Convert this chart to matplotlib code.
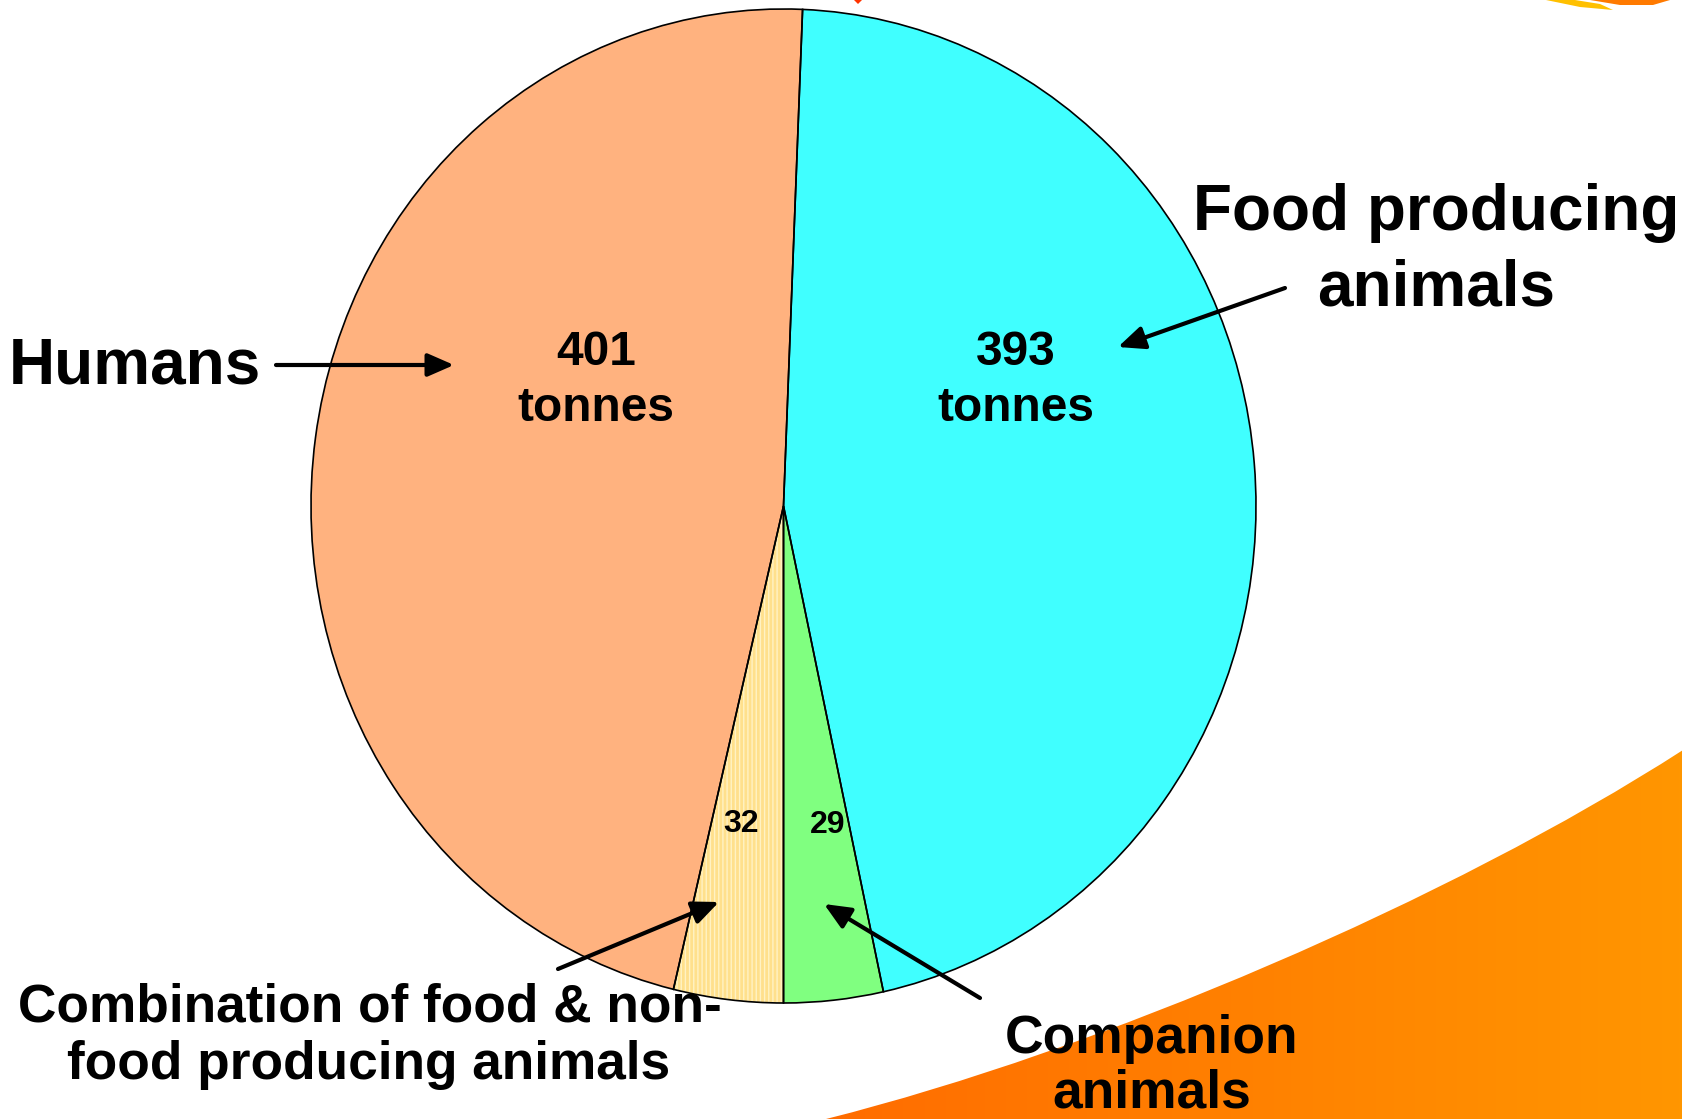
import matplotlib
matplotlib.use("Agg")
import matplotlib.pyplot as plt
import numpy as np
from matplotlib.patches import Polygon, PathPatch
from matplotlib.path import Path

# antibiotic use by sector (tonnes), in clockwise order starting at the bottom
SECTORES = ["Combination of food & non-food producing animals", "Humans",
            "Food producing animals", "Companion animals"]
TONELADAS = [32, 401, 393, 29]
COLORES = ["#FFE08C", "#FFB27F", "#40FFFF", "#80FF80"]

W, H = 1683, 1119
FUENTE = "Liberation Sans"

plt.rcParams["hatch.linewidth"] = 1.0

fig = plt.figure(figsize=(W / 100, H / 100), dpi=100)
fig.patch.set_facecolor("white")

# background with the orange swoosh
ax_bg = fig.add_axes([0, 0, 1, 1], zorder=0)
ax_bg.set_xlim(0, W)
ax_bg.set_ylim(H, 0)
ax_bg.axis("off")

verts = [(826, H), (1100, 1050), (1450, 900), (W, 750), (W, H), (826, H)]
codes = [Path.MOVETO, Path.CURVE4, Path.CURVE4, Path.CURVE4, Path.LINETO, Path.CLOSEPOLY]
swoosh = PathPatch(Path(verts, codes), facecolor="none", edgecolor="none")
ax_bg.add_patch(swoosh)
grad = np.linspace(0, 1, 256).reshape(1, -1)
cmap = matplotlib.colors.LinearSegmentedColormap.from_list("naranja", ["#FF6A00", "#FF9600"])
img = ax_bg.imshow(grad, extent=(780, W, H, 740), cmap=cmap, aspect="auto")
img.set_clip_path(swoosh)
ax_bg.set_xlim(0, W)
ax_bg.set_ylim(H, 0)

# little logo bits at the top edge
ax_bg.add_patch(Polygon([(1546, 0), (1580, 7), (1613, 10), (1600, 4), (1575, 0)],
                        closed=True, facecolor="#FFC000", edgecolor="none"))
ax_bg.add_patch(Polygon([(1590, 0), (1620, 5), (1653, 5), (1670, 0)],
                        closed=True, facecolor="#FF7A00", edgecolor="none"))
ax_bg.add_patch(Polygon([(854, 0), (858, 4), (862, 0)],
                        closed=True, facecolor="#FF3300", edgecolor="none"))

# pie, slightly elliptical
x0, x1, y0, y1 = 311, 1256, 9, 1003
ax_pie = fig.add_axes([x0 / W, 1 - y1 / H, (x1 - x0) / W, (y1 - y0) / H], zorder=1)
ax_pie.patch.set_alpha(0)
wedges, _ = ax_pie.pie(TONELADAS, colors=COLORES, startangle=270, counterclock=False,
                       radius=1, wedgeprops=dict(linewidth=0))
wedges[0].set_edgecolor("#FFF2C4")
wedges[0].set_hatch("||||")
ax_pie.pie(TONELADAS, colors=["none"] * 4, startangle=270, counterclock=False, radius=1,
           wedgeprops=dict(linewidth=1.2, edgecolor="black", facecolor="none"))
ax_pie.set_aspect("auto")
ax_pie.set_xlim(-1, 1)
ax_pie.set_ylim(-1, 1)
ax_pie.axis("off")

# texts and arrows on top
ax_txt = fig.add_axes([0, 0, 1, 1], zorder=2)
ax_txt.patch.set_alpha(0)
ax_txt.set_xlim(0, W)
ax_txt.set_ylim(H, 0)
ax_txt.axis("off")


def _texto(x, y, s, size, ha="center"):
    ax_txt.text(x, y, s, fontsize=size, fontweight="bold", family=FUENTE,
                ha=ha, va="baseline", color="black")


def _flecha(cola, punta):
    ax_txt.annotate("", xy=punta, xytext=cola,
                    arrowprops=dict(arrowstyle="-|>,head_length=0.8,head_width=0.35",
                                    lw=3, color="black", mutation_scale=20,
                                    shrinkA=0, shrinkB=0))


_texto(596, 365, str(TONELADAS[1]), 34.5)
_texto(596, 421, "tonnes", 34.5)
_texto(1016, 365, str(TONELADAS[2]), 34.5)
_texto(1016, 421, "tonnes", 34.5)
_texto(741, 832, str(TONELADAS[0]), 23)
_texto(828, 833, str(TONELADAS[3]), 23)

_texto(9, 384, "Humans", 46, ha="left")
_texto(1436, 230, "Food producing", 46)
_texto(1436, 306, "animals", 46)
_texto(370, 1021, "Combination of food & non-", 38.3)
_texto(369, 1079, "food producing animals", 38.3)
_texto(1152, 1053, "Companion", 38.4)
_texto(1152, 1107, "animals", 38.4)

_flecha((276, 365), (454, 365))
_flecha((1285, 288), (1118, 347))
_flecha((558, 969), (719, 902))
_flecha((980, 998), (824, 904))

fig.savefig("out.png", dpi=100, facecolor="white")
